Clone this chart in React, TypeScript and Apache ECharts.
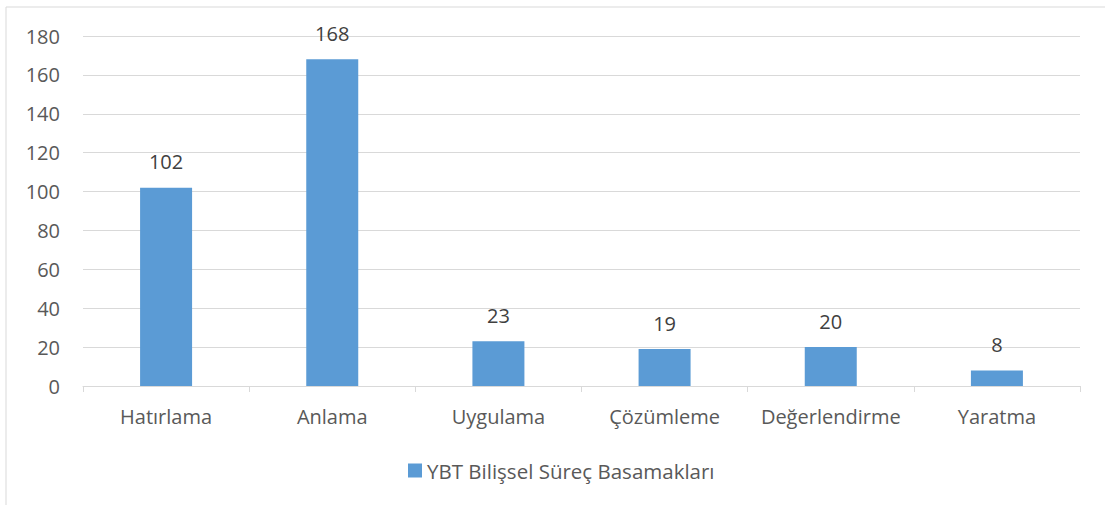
import React, { useEffect, useRef } from "react";
import * as echarts from "echarts";

const categories = ["Hatırlama", "Anlama", "Uygulama", "Çözümleme", "Değerlendirme", "Yaratma"];
const values = [102, 168, 23, 19, 20, 8];
const seriesName = "YBT Bilişsel Süreç Basamakları";

const FONT = "'Open Sans', 'Noto Sans', sans-serif";
const TEXT = "#595959";

export default function App() {
  const ref = useRef<HTMLDivElement>(null);
  useEffect(() => {
    if (!ref.current) return;
    const chart = echarts.init(ref.current, null, { renderer: "svg" });
    chart.setOption({
      animation: false,
      backgroundColor: "#ffffff",
      graphic: [
        {
          type: "rect",
          shape: { x: 6, y: 7, width: 1200, height: 600 },
          style: { fill: "none", stroke: "#D9D9D9", lineWidth: 1 },
          silent: true,
        },
      ],
      grid: { left: 83, right: 25, top: 36, bottom: 119, containLabel: false },
      legend: {
        top: 455,
        left: 403,
        itemWidth: 14,
        itemHeight: 14,
        itemGap: 5,
        icon: "rect",
        textStyle: { fontFamily: FONT, fontSize: 20.5, color: TEXT, padding: [0, 0, 0, 0] },
        data: [seriesName],
      },
      xAxis: {
        type: "category",
        data: categories,
        axisLine: { lineStyle: { color: "#D9D9D9", width: 1 } },
        axisTick: { show: true, length: 6, lineStyle: { color: "#D9D9D9" } },
        axisLabel: { fontFamily: FONT, fontSize: 20, color: TEXT, margin: 20, interval: 0 },
      },
      yAxis: {
        type: "value",
        min: 0,
        max: 180,
        interval: 20,
        axisLine: { show: false },
        axisTick: { show: false },
        splitLine: { lineStyle: { color: "#D9D9D9", width: 1 } },
        axisLabel: { fontFamily: FONT, fontSize: 20, color: TEXT, margin: 23 },
      },
      series: [
        {
          name: seriesName,
          type: "bar",
          data: values,
          barWidth: 52,
          itemStyle: { color: "#5B9BD5" },
          label: {
            show: true,
            position: "top",
            distance: 16,
            fontFamily: FONT,
            fontSize: 20,
            color: "#404040",
          },
        },
      ],
    });
    return () => chart.dispose();
  }, []);
  return (
    <div
      ref={ref}
      style={{ position: "fixed", left: 0, top: 0, width: 1105, height: 505 }}
    />
  );
}
